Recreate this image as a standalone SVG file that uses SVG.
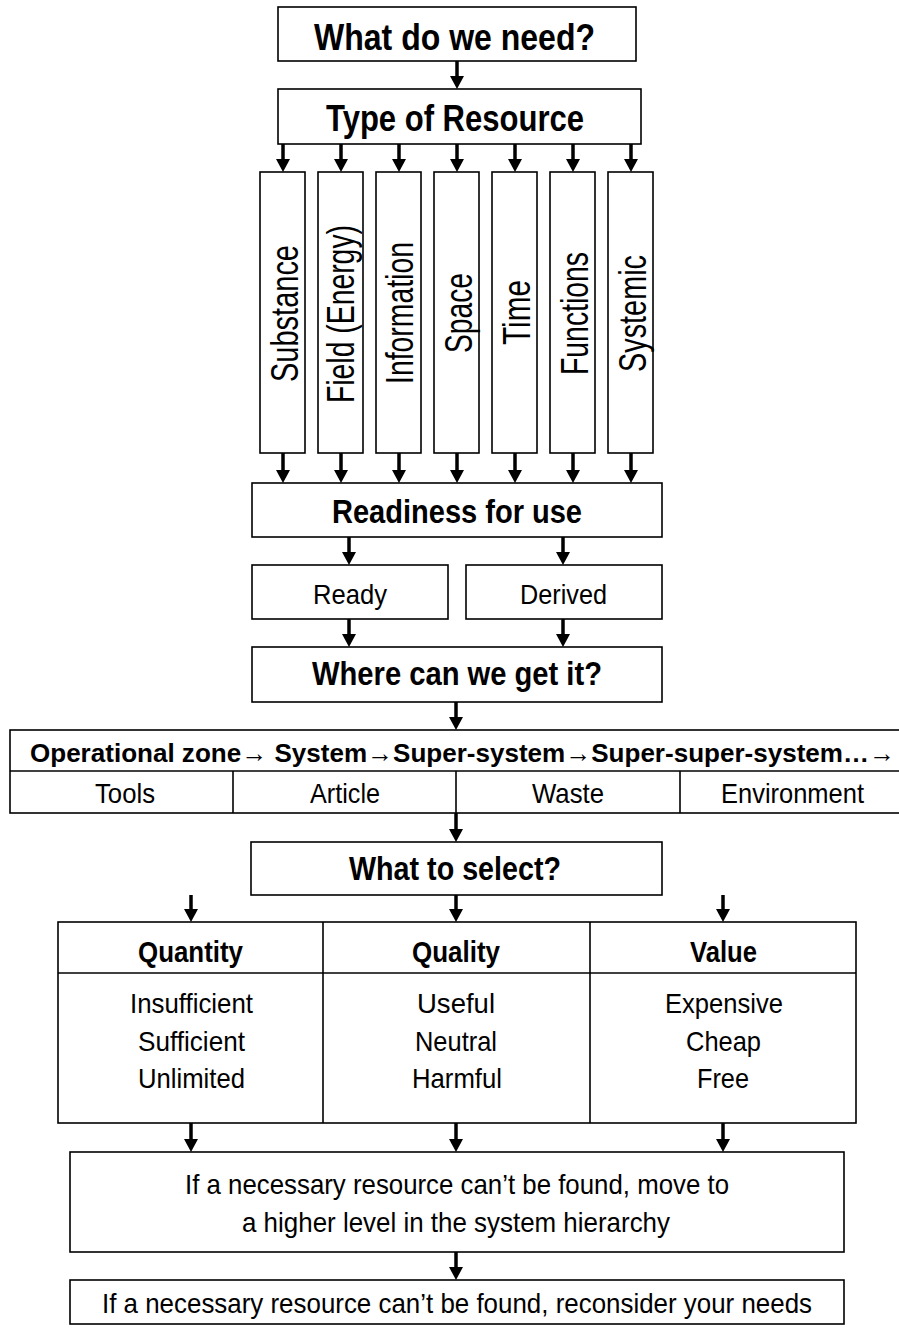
<svg xmlns="http://www.w3.org/2000/svg" width="899" height="1328" viewBox="0 0 899 1328">
<defs>
<style>
.box{fill:#fff;stroke:#000;stroke-width:1.6}
.ln{fill:none;stroke:#000;stroke-width:1.6}
.t{font-family:"Liberation Sans Narrow","Liberation Sans",Arial,sans-serif;fill:#000}
.b{font-weight:bold}
.big{font-size:37px}
.mid{font-size:33px}
.hdr{font-size:30px}
.row{font-size:26.5px}
.reg{font-size:28px}
.col{font-size:38px}
.arw{fill:none;stroke:#000;stroke-width:3.5}
</style>
<marker id="ah" markerUnits="userSpaceOnUse" markerWidth="14" markerHeight="14" viewBox="0 0 13 14" refX="3" refY="7" orient="auto">
<path d="M0,0 L13,7 L0,14 z" fill="#000"/>
</marker>
</defs>
<rect width="899" height="1328" fill="#fff"/>

<g id="need">
<rect class="box" x="278" y="7" width="358" height="54"/>
<text class="t b big" x="314" y="50" textLength="281" lengthAdjust="spacingAndGlyphs">What do we need?</text>
</g>

<g id="type">
<rect class="box" x="278" y="89" width="363" height="55"/>
<text class="t b big" x="326" y="131" textLength="258" lengthAdjust="spacingAndGlyphs">Type of Resource</text>
</g>

<g id="col-substance">
<rect class="box" x="260" y="172" width="45" height="281"/>
<text class="t col" transform="translate(298,382) rotate(-90)" textLength="137" lengthAdjust="spacingAndGlyphs">Substance</text>
</g>
<g id="col-field">
<rect class="box" x="318" y="172" width="45" height="281"/>
<text class="t col" transform="translate(354,403) rotate(-90)" textLength="178" lengthAdjust="spacingAndGlyphs">Field (Energy)</text>
</g>
<g id="col-information">
<rect class="box" x="376" y="172" width="45" height="281"/>
<text class="t col" transform="translate(413,384) rotate(-90)" textLength="142" lengthAdjust="spacingAndGlyphs">Information</text>
</g>
<g id="col-space">
<rect class="box" x="434" y="172" width="45" height="281"/>
<text class="t col" transform="translate(472,353) rotate(-90)" textLength="80" lengthAdjust="spacingAndGlyphs">Space</text>
</g>
<g id="col-time">
<rect class="box" x="492" y="172" width="45" height="281"/>
<text class="t col" transform="translate(530,345) rotate(-90)" textLength="65" lengthAdjust="spacingAndGlyphs">Time</text>
</g>
<g id="col-functions">
<rect class="box" x="550" y="172" width="45" height="281"/>
<text class="t col" transform="translate(588,375) rotate(-90)" textLength="123" lengthAdjust="spacingAndGlyphs">Functions</text>
</g>
<g id="col-systemic">
<rect class="box" x="608" y="172" width="45" height="281"/>
<text class="t col" transform="translate(646,372) rotate(-90)" textLength="117" lengthAdjust="spacingAndGlyphs">Systemic</text>
</g>

<g id="readiness">
<rect class="box" x="252" y="483" width="410" height="54"/>
<text class="t b mid" x="332" y="523" textLength="250" lengthAdjust="spacingAndGlyphs">Readiness for use</text>
</g>

<g id="ready">
<rect class="box" x="252" y="565" width="196" height="54"/>
<text class="t reg" x="313" y="604" textLength="74" lengthAdjust="spacingAndGlyphs">Ready</text>
</g>
<g id="derived">
<rect class="box" x="466" y="565" width="196" height="54"/>
<text class="t reg" x="520" y="604" textLength="87" lengthAdjust="spacingAndGlyphs">Derived</text>
</g>

<g id="where">
<rect class="box" x="252" y="647" width="410" height="55"/>
<text class="t b mid" x="312" y="685" textLength="290" lengthAdjust="spacingAndGlyphs">Where can we get it?</text>
</g>

<g id="sources">
<rect class="box" x="10" y="730" width="900" height="83"/>
<line class="ln" x1="10" y1="771" x2="899" y2="771"/>
<line class="ln" x1="233" y1="771" x2="233" y2="813"/>
<line class="ln" x1="456" y1="771" x2="456" y2="813"/>
<line class="ln" x1="680" y1="771" x2="680" y2="813"/>
<text class="t b row" x="30" y="762" textLength="865" lengthAdjust="spacingAndGlyphs">Operational zone→ System→Super-system→Super-super-system…→</text>
<text class="t reg" x="95" y="803" textLength="60" lengthAdjust="spacingAndGlyphs">Tools</text>
<text class="t reg" x="310" y="803" textLength="70" lengthAdjust="spacingAndGlyphs">Article</text>
<text class="t reg" x="532" y="803" textLength="72" lengthAdjust="spacingAndGlyphs">Waste</text>
<text class="t reg" x="721" y="803" textLength="143" lengthAdjust="spacingAndGlyphs">Environment</text>
</g>

<g id="select">
<rect class="box" x="251" y="842" width="411" height="53"/>
<text class="t b mid" x="349" y="880" textLength="212" lengthAdjust="spacingAndGlyphs">What to select?</text>
</g>

<g id="criteria">
<rect class="box" x="58" y="922" width="798" height="201"/>
<line class="ln" x1="58" y1="973" x2="856" y2="973"/>
<line class="ln" x1="323" y1="922" x2="323" y2="1123"/>
<line class="ln" x1="590" y1="922" x2="590" y2="1123"/>
<text class="t b hdr" x="138" y="962" textLength="105" lengthAdjust="spacingAndGlyphs">Quantity</text>
<text class="t b hdr" x="412" y="962" textLength="88" lengthAdjust="spacingAndGlyphs">Quality</text>
<text class="t b hdr" x="690" y="962" textLength="67" lengthAdjust="spacingAndGlyphs">Value</text>
<text class="t reg" x="130" y="1013" textLength="123" lengthAdjust="spacingAndGlyphs">Insufficient</text>
<text class="t reg" x="138" y="1051" textLength="107" lengthAdjust="spacingAndGlyphs">Sufficient</text>
<text class="t reg" x="138" y="1088" textLength="107" lengthAdjust="spacingAndGlyphs">Unlimited</text>
<text class="t reg" x="417" y="1013" textLength="78" lengthAdjust="spacingAndGlyphs">Useful</text>
<text class="t reg" x="415" y="1051" textLength="82" lengthAdjust="spacingAndGlyphs">Neutral</text>
<text class="t reg" x="412" y="1088" textLength="90" lengthAdjust="spacingAndGlyphs">Harmful</text>
<text class="t reg" x="665" y="1013" textLength="118" lengthAdjust="spacingAndGlyphs">Expensive</text>
<text class="t reg" x="686" y="1051" textLength="75" lengthAdjust="spacingAndGlyphs">Cheap</text>
<text class="t reg" x="697" y="1088" textLength="52" lengthAdjust="spacingAndGlyphs">Free</text>
</g>

<g id="higher">
<rect class="box" x="70" y="1152" width="774" height="100"/>
<text class="t reg" x="185" y="1194" textLength="544" lengthAdjust="spacingAndGlyphs">If a necessary resource can’t be found, move to</text>
<text class="t reg" x="242" y="1232" textLength="428" lengthAdjust="spacingAndGlyphs">a higher level in the system hierarchy</text>
</g>

<g id="reconsider">
<rect class="box" x="70" y="1280" width="774" height="44"/>
<text class="t reg" x="102" y="1313" textLength="710" lengthAdjust="spacingAndGlyphs">If a necessary resource can’t be found, reconsider your needs</text>
</g>

<g id="connectors">
<path class="arw" marker-end="url(#ah)" d="M457,61 V79"/>
<path class="arw" marker-end="url(#ah)" d="M283,144 V162"/>
<path class="arw" marker-end="url(#ah)" d="M341,144 V162"/>
<path class="arw" marker-end="url(#ah)" d="M399,144 V162"/>
<path class="arw" marker-end="url(#ah)" d="M457,144 V162"/>
<path class="arw" marker-end="url(#ah)" d="M515,144 V162"/>
<path class="arw" marker-end="url(#ah)" d="M573,144 V162"/>
<path class="arw" marker-end="url(#ah)" d="M631,144 V162"/>
<path class="arw" marker-end="url(#ah)" d="M283,453 V473"/>
<path class="arw" marker-end="url(#ah)" d="M341,453 V473"/>
<path class="arw" marker-end="url(#ah)" d="M399,453 V473"/>
<path class="arw" marker-end="url(#ah)" d="M457,453 V473"/>
<path class="arw" marker-end="url(#ah)" d="M515,453 V473"/>
<path class="arw" marker-end="url(#ah)" d="M573,453 V473"/>
<path class="arw" marker-end="url(#ah)" d="M631,453 V473"/>
<path class="arw" marker-end="url(#ah)" d="M349,537 V555"/>
<path class="arw" marker-end="url(#ah)" d="M563,537 V555"/>
<path class="arw" marker-end="url(#ah)" d="M349,619 V637"/>
<path class="arw" marker-end="url(#ah)" d="M563,619 V637"/>
<path class="arw" marker-end="url(#ah)" d="M456,702 V720"/>
<path class="arw" marker-end="url(#ah)" d="M456,813 V832"/>
<path class="arw" marker-end="url(#ah)" d="M191,895 V912"/>
<path class="arw" marker-end="url(#ah)" d="M456,895 V912"/>
<path class="arw" marker-end="url(#ah)" d="M723,895 V912"/>
<path class="arw" marker-end="url(#ah)" d="M191,1123 V1142"/>
<path class="arw" marker-end="url(#ah)" d="M456,1123 V1142"/>
<path class="arw" marker-end="url(#ah)" d="M723,1123 V1142"/>
<path class="arw" marker-end="url(#ah)" d="M456,1252 V1270"/>
</g>
</svg>
